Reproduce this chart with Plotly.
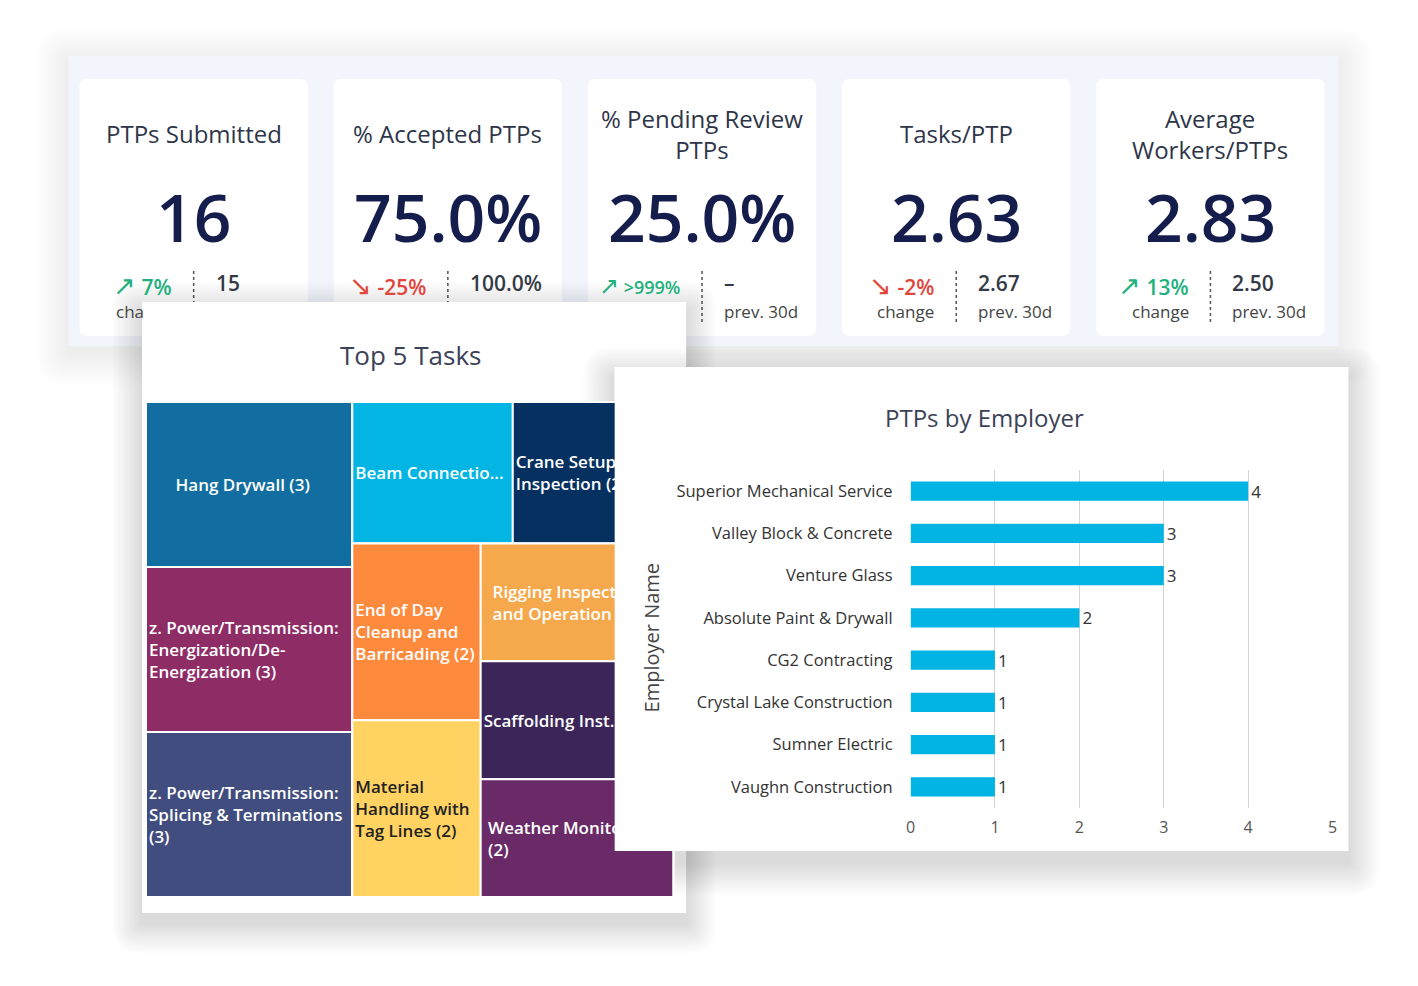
import plotly.graph_objects as go

W, H = 1418, 986
FONT = "Open Sans"

# ---------------- data ----------------
kpi_titles = ["PTPs Submitted", "% Accepted PTPs", "% Pending Review<br>PTPs",
              "Tasks/PTP", "Average<br>Workers/PTPs"]
kpi_values = ["16", "75.0%", "25.0%", "2.63", "2.83"]
kpi_change = ["7%", "-25%", ">999%", "-2%", "13%"]
kpi_up = [True, False, True, False, True]
kpi_prev = ["15", "100.0%", "–", "2.67", "2.50"]

tasks = ["Hang Drywall",
         "z. Power/Transmission: Energization/De-Energization",
         "z. Power/Transmission: Splicing & Terminations",
         "Beam Connection",
         "Crane Setup Inspection",
         "End of Day Cleanup and Barricading",
         "Material Handling with Tag Lines",
         "Rigging Inspection and Operation",
         "Scaffolding Installation",
         "Weather Monitoring"]
task_counts = [3, 3, 3, 2, 2, 2, 2, 2, 2, 2]
task_text = ["\u00a0\u00a0\u00a0\u00a0\u00a0\u00a0Hang Drywall (3)",
             "z. Power/Transmission:<br>Energization/De-<br>Energization (3)",
             "z. Power/Transmission:<br>Splicing & Terminations<br>(3)",
             "Beam Connectio...",
             "Crane Setup<br>Inspection (2)",
             "End of Day<br>Cleanup and<br>Barricading (2)",
             "Material<br>Handling with<br>Tag Lines (2)",
             "\u00a0\u00a0Rigging Inspection<br>\u00a0\u00a0and Operation (2)",
             "Scaffolding Inst. (2)",
             "\u00a0Weather Monitoring<br>\u00a0(2)"]
task_colors = ["#126ea0", "#8e2c66", "#404d7e", "#02b5e3", "#06305f",
               "#fd8a3d", "#ffd262", "#f6a84c", "#3c2659", "#6a2a67"]
task_text_colors = ["white"] * 6 + ["#222222"] + ["white"] * 3
# tile grouping (controls the slice/dice arrangement of the treemap)
task_group = ["left", "left", "left", "top", "top", "colA", "colA", "colB", "colB", "colB"]
groups = ["root", "left", "right", "top", "bottom", "colA", "colB"]
group_parent = ["", "root", "root", "right", "right", "bottom", "bottom"]

employers = ["Superior Mechanical Service", "Valley Block & Concrete", "Venture Glass",
             "Absolute Paint & Drywall", "CG2 Contracting", "Crystal Lake Construction",
             "Sumner Electric", "Vaughn Construction"]
employer_ptps = [4, 3, 3, 2, 1, 1, 1, 1]
x_ticks = [0, 1, 2, 3, 4, 5]


# ---------------- helpers ----------------
def X(px):
    return px / W


def Y(py):
    return 1 - py / H


shapes = []


def rect(x0, y0, x1, y1, fill, layer="below"):
    shapes.append(dict(type="rect", xref="paper", yref="paper",
                       x0=X(x0), x1=X(x1), y0=Y(y1), y1=Y(y0),
                       fillcolor=fill, line=dict(width=0), layer=layer))


def rrect(x0, y0, x1, y1, r, fill, layer="below"):
    p = (f"M {X(x0 + r)},{Y(y0)} L {X(x1 - r)},{Y(y0)} Q {X(x1)},{Y(y0)} {X(x1)},{Y(y0 + r)} "
         f"L {X(x1)},{Y(y1 - r)} Q {X(x1)},{Y(y1)} {X(x1 - r)},{Y(y1)} "
         f"L {X(x0 + r)},{Y(y1)} Q {X(x0)},{Y(y1)} {X(x0)},{Y(y1 - r)} "
         f"L {X(x0)},{Y(y0 + r)} Q {X(x0)},{Y(y0)} {X(x0 + r)},{Y(y0)} Z")
    shapes.append(dict(type="path", xref="paper", yref="paper", path=p,
                       fillcolor=fill, line=dict(width=0), layer=layer))


def shadow(x0, y0, x1, y1, spread=30, steps=18, dy=8, alpha=0.008):
    for i in range(steps):
        s = spread * (i + 1) / steps
        rrect(x0 - s, y0 - s + dy, x1 + s, y1 + s + dy, s * 0.9,
              f"rgba(0,0,0,{alpha})")


annotations = []


def text(x, y, s, size, color, anchor="center", weight=400, angle=0):
    annotations.append(dict(xref="paper", yref="paper", x=X(x), y=Y(y), text=s,
                            showarrow=False, xanchor=anchor, yanchor="middle",
                            textangle=angle,
                            font=dict(family=FONT, size=size, color=color, weight=weight)))


# ---------------- KPI strip ----------------
shadow(64, 56, 1343, 346, spread=34, steps=17, dy=6, alpha=0.0045)
rect(64, 56, 1343, 346, "#f2f5fb")

GREEN, RED = "#22b07e", "#e2453b"
for i in range(5):
    cx = 190 + i * 256
    rrect(cx - 115, 79, cx + 115, 336, 8, "white")
    shapes.append(dict(type="line", xref="paper", yref="paper",
                       x0=X(cx), x1=X(cx), y0=Y(322), y1=Y(268),
                       line=dict(color="#555555", width=1.5, dash="3px,3px"), layer="below"))
    text(cx, 134, kpi_titles[i], 24, "#2e3548")
    text(cx, 216, kpi_values[i], 66, "#141d4b", weight=600)
    col = GREEN if kpi_up[i] else RED
    arrow = "↗" if kpi_up[i] else "↘"
    size = 18 if len(kpi_change[i]) > 4 else 21
    text(cx - 20, 284,
         f"<span style='font-size:{size + 6}px;font-weight:300'>{arrow}</span> {kpi_change[i]}",
         size, col, anchor="right", weight=600)
    text(cx + 20, 283, kpi_prev[i], 21, "#333a45", anchor="left", weight=600)
    if i >= 3:
        text(cx - 20, 312, "change", 17, "#444444", anchor="right")
    if i >= 2:
        text(cx + 20, 312, "prev. 30d", 17, "#444444", anchor="left")
text(110, 312, "cha", 17, "#444444", anchor="left")

# ---------------- treemap panel ----------------
shadow(138, 302, 686, 913, spread=30, steps=18, dy=10, alpha=0.008)
rect(138, 302, 686, 913, "white")
text(408, 355, "Top 5 Tasks", 26, "#3b4257")

# ---------------- bar panel ----------------
shadow(614, 367, 1353, 851, spread=32, steps=18, dy=12, alpha=0.009)
rect(614, 367, 1353, 851, "white")
# bar panel sits on top of the treemap
rect(614, 367, 675, 851, "white", layer="above")
text(986, 417, "PTPs by Employer", 24, "#3b4257")
text(651, 638, "Employer Name", 20, "#444444", angle=-90)

# ---------------- treemap trace ----------------
group_values = {}


def gval(g):
    if g in group_values:
        return group_values[g]
    v = sum(c for c, tg in zip(task_counts, task_group) if tg == g)
    v += sum(gval(ch) for ch, p in zip(groups, group_parent) if p == g)
    group_values[g] = v
    return v


ids = groups + tasks
labels = groups + tasks
parents = group_parent + task_group
values = [gval(g) for g in groups] + task_counts
texts = [""] * len(groups) + task_text
colors = ["white"] * len(groups) + task_colors
tcolors = ["white"] * len(groups) + task_text_colors

fig = go.Figure()
fig.add_trace(go.Treemap(
    ids=ids, labels=labels, parents=parents, values=values,
    branchvalues="total", sort=False, maxdepth=-1,
    text=texts, textinfo="text", textposition="middle left",
    textfont=dict(family=FONT, size=17, color=tcolors, weight=600),
    marker=dict(colors=colors, line=dict(color="white", width=2),
                pad=dict(t=0, l=0, r=0, b=0), depthfade=False),
    tiling=dict(packing="slice-dice", pad=0),
    pathbar=dict(visible=False), root=dict(color="white"),
    hoverinfo="skip",
    domain=dict(x=[X(142), X(673)], y=[Y(897), Y(402)]),
))

# ---------------- bar trace ----------------
fig.add_trace(go.Bar(
    x=employer_ptps, y=employers, orientation="h",
    marker=dict(color="#02b4e4", line=dict(width=0)),
    width=0.45, text=employer_ptps, textposition="outside",
    textfont=dict(family=FONT, size=14, color="#333333"),
    cliponaxis=False, hoverinfo="skip",
))

fig.update_layout(
    width=W, height=H, margin=dict(l=0, r=0, t=0, b=0),
    paper_bgcolor="white", plot_bgcolor="rgba(0,0,0,0)",
    showlegend=False, shapes=shapes, annotations=annotations,
    uniformtext=dict(minsize=17, mode="show"),
    font=dict(family=FONT),
    xaxis=dict(domain=[X(912), X(1337)], range=[0, 5], tickvals=x_ticks,
               showgrid=True, gridcolor="#d4d4d4", gridwidth=1, zeroline=False,
               showline=False, ticks="", ticklabelstandoff=8,
               tickfont=dict(family=FONT, size=16, color="#555555"), fixedrange=True),
    yaxis=dict(domain=[Y(808), Y(470)], categoryorder="array", categoryarray=employers,
               autorange="reversed", showgrid=False, zeroline=False, showline=False,
               ticks="", ticklabelstandoff=17,
               tickfont=dict(family=FONT, size=16.5, color="#333333"), fixedrange=True),
)

fig.write_html("out.html")
